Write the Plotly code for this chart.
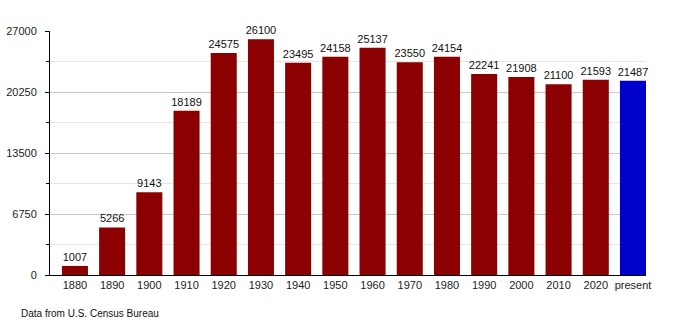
import plotly.graph_objects as go

categories = ["1880", "1890", "1900", "1910", "1920", "1930", "1940", "1950",
              "1960", "1970", "1980", "1990", "2000", "2010", "2020", "present"]
population = [1007, 5266, 9143, 18189, 24575, 26100, 23495, 24158,
              25137, 23550, 24154, 22241, 21908, 21100, 21593, 21487]
y_ticks = [0, 6750, 13500, 20250, 27000]

colors = ["#8b0000"] * (len(categories) - 1) + ["#0000cc"]

FONT = "Liberation Sans, Arial, sans-serif"

fig = go.Figure(go.Bar(
    x=categories,
    y=population,
    marker=dict(color=colors, line=dict(width=0)),
    text=[str(v) for v in population],
    textposition="outside",
    constraintext="none",
    textfont=dict(family=FONT, size=11, color="#111"),
    cliponaxis=False,
))

fig.update_layout(
    width=675, height=325,
    margin=dict(l=50, r=29, t=31, b=50),
    plot_bgcolor="white", paper_bgcolor="white",
    bargap=0.3,
    showlegend=False,
    font=dict(family=FONT, size=11, color="#222"),
    xaxis=dict(
        type="category",
        range=[-0.67, 15.35],
        automargin=False,
        showline=True, linecolor="black", linewidth=1,
        ticks="", showgrid=False,
        tickfont=dict(family=FONT, size=11, color="#222"),
    ),
    yaxis=dict(
        range=[0, 27000],
        automargin=False,
        tickvals=y_ticks,
        ticktext=[str(v) for v in y_ticks],
        showline=True, linecolor="black", linewidth=1,
        ticks="outside", ticklen=4, tickcolor="black",
        ticklabelstandoff=6,
        showgrid=True, gridcolor="#c8c8c8", gridwidth=1,
        zeroline=False,
        tickfont=dict(family=FONT, size=11, color="#222"),
        minor=dict(dtick=3375, tick0=0, ticks="outside", ticklen=3,
                   tickcolor="black", showgrid=True, gridcolor="#e6e6e6"),
    ),
    annotations=[dict(
        text="Data from U.S. Census Bureau",
        xref="paper", yref="paper", x=-0.052, y=-0.156,
        xanchor="left", yanchor="middle", showarrow=False,
        font=dict(family=FONT, size=10, color="#111"),
    )],
)

fig.write_html("out.html")
